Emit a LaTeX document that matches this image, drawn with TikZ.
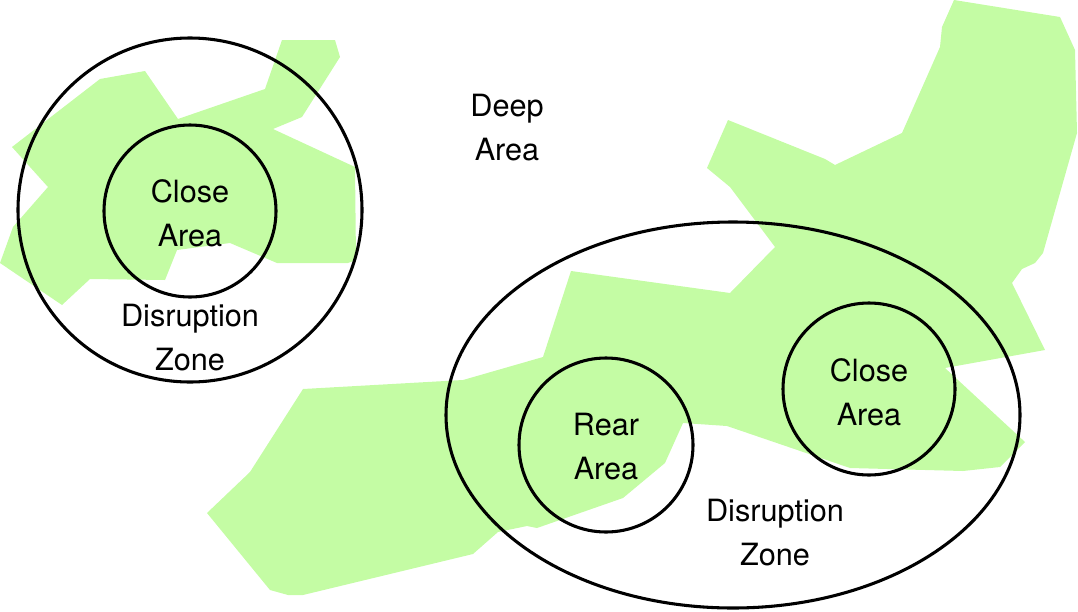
\documentclass[tikz,border=0pt]{standalone}
\usepackage{fontspec}
\setmainfont{TeX Gyre Heros}
\begin{document}
\begin{tikzpicture}[x=0.75pt,y=-0.75pt,
  land/.style={fill={rgb,255:red,196;green,252;blue,164},draw=none},
  ring/.style={draw=black,line width=2.3pt},
  lbl/.style={align=center,font=\fontsize{23}{33}\selectfont}]
\useasboundingbox (0,0) rectangle (1078,611);
\fill[land] (12,147) -- (100,79) -- (145,71) -- (178,119) -- (265,89) -- (282,40) -- (335,40) -- (340,57) -- (302,117) -- (273,129) -- (355,167) -- (356,260) -- (348,263) -- (277,263) -- (230,243) -- (177,250) -- (165,280) -- (90,279) -- (62,305) -- (0,263) -- (13,227) -- (48,187) -- cycle;
\fill[land] (303,389) -- (463,380) -- (543,357) -- (571,271) -- (730,293) -- (775,247) -- (730,187) -- (707,168) -- (728,120) -- (825,159) -- (835,165) -- (902,133) -- (940,47) -- (942,27) -- (954,0) -- (1060,17) -- (1075,50) -- (1077,133) -- (1043,253) -- (1035,263) -- (1022,269) -- (1012,283) -- (1045,350) -- (945,368) -- (1025,442) -- (1000,467) -- (963,471) -- (850,468) -- (727,426) -- (683,423) -- (665,463) -- (623,498) -- (537,528) -- (527,526) -- (498,532) -- (473,554) -- (303,595) -- (288,595) -- (270,590) -- (207,513) -- (250,472) -- cycle;
\draw[ring] (190,210) circle [radius=172];
\draw[ring] (190,211) circle [radius=86];
\draw[ring] (733,415) ellipse [x radius=287, y radius=193];
\draw[ring] (606,445) circle [radius=87];
\draw[ring] (869,389) circle [radius=86];
\node[lbl] (deep) at (507,128) {Deep\\Area};
\node[lbl] (close1) at (190,213) {Close\\Area};
\node[lbl] (dz1) at (190,338) {Disruption\\Zone};
\node[lbl] (rear) at (606,447) {Rear\\Area};
\node[lbl] (close2) at (869,392) {Close\\Area};
\node[lbl] (dz2) at (775,533) {Disruption\\Zone};
\end{tikzpicture}
\end{document}
